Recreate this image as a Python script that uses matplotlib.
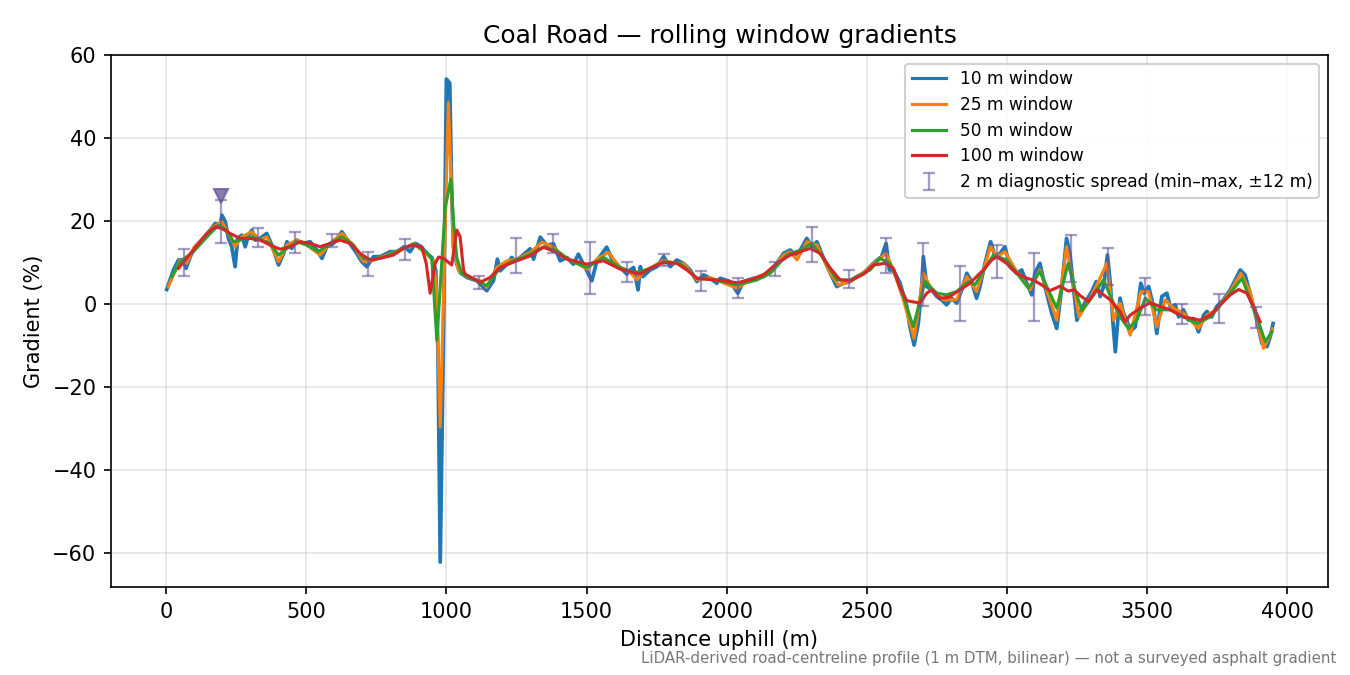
import numpy as np
import matplotlib
matplotlib.use("Agg")
import matplotlib.pyplot as plt

# (distance m, gradient %)
w10 = [(2, 3.5), (26, 8.2), (44, 10.6), (62, 10.6), (71, 8.6), (86, 11.4), (103, 13.8), (133, 15.8),
       (157, 17.8), (175, 19.4), (193, 19.0), (199, 21.4), (211, 19.8), (222, 15.8), (234, 13.8),
       (246, 9.0), (255, 15.8), (270, 16.6), (282, 13.8), (294, 16.6), (306, 17.8), (318, 15.4),
       (335, 15.8), (359, 17.0), (377, 14.2), (401, 9.4), (419, 12.2), (431, 15.0), (448, 13.4),
       (466, 15.4), (490, 14.6), (514, 15.0), (538, 13.0), (556, 11.0), (573, 13.8), (597, 14.6),
       (627, 17.4), (651, 15.0), (680, 12.2), (698, 10.2), (716, 9.0), (740, 11.4), (764, 11.4),
       (799, 12.6), (823, 12.6), (850, 13.8), (870, 12.6), (890, 14.6), (910, 13.8), (930, 12.2),
       (948, 11.2), (962, 8.0), (970, -12.0), (978, -62.2), (990, -5.0), (1000, 54.2), (1012, 53.2),
       (1018, 30.0), (1025, 13.7), (1037, 9.6), (1049, 7.6), (1073, 6.4), (1109, 5.6), (1144, 3.2),
       (1168, 5.6), (1182, 10.8), (1192, 8.0), (1216, 9.6), (1233, 11.2), (1245, 10.4), (1263, 11.2),
       (1299, 13.3), (1311, 10.8), (1335, 16.1), (1358, 14.1), (1382, 14.5), (1406, 10.4),
       (1430, 11.2), (1453, 9.6), (1471, 12.0), (1489, 9.6), (1519, 5.6), (1537, 10.4), (1572, 13.7),
       (1596, 10.0), (1620, 8.8), (1644, 7.2), (1656, 8.2), (1668, 8.8), (1684, 3.4), (1692, 9.0),
       (1701, 6.6), (1727, 8.2), (1751, 9.0), (1775, 11.4), (1799, 9.0), (1822, 10.6), (1846, 9.8),
       (1870, 8.2), (1894, 5.4), (1918, 7.0), (1941, 6.2), (1965, 5.0), (1977, 6.2), (2013, 5.4),
       (2040, 2.6), (2060, 5.4), (2096, 6.2), (2132, 6.6), (2156, 7.8), (2179, 9.8), (2203, 12.2),
       (2227, 13.0), (2245, 11.8), (2263, 13.0), (2286, 15.8), (2304, 13.8), (2322, 15.0),
       (2346, 11.0), (2370, 7.4), (2393, 4.2), (2417, 5.0), (2441, 5.4), (2465, 6.6), (2489, 7.4),
       (2500, 8.2), (2530, 10.2), (2553, 11.4), (2569, 14.6), (2581, 8.2), (2595, 8.2), (2619, 5.0),
       (2643, -0.6), (2654, -5.5), (2669, -9.9), (2684, -4.7), (2696, 4.2), (2702, 11.4), (2714, 4.2),
       (2732, 3.4), (2750, 1.8), (2767, 1.0), (2785, -0.2), (2803, 1.4), (2821, 0.2), (2839, 3.4),
       (2857, 7.4), (2874, 5.4), (2892, 1.4), (2904, 4.2), (2922, 9.8), (2942, 15.0), (2958, 11.4),
       (2976, 12.2), (2993, 13.8), (3011, 9.0), (3035, 7.4), (3053, 8.2), (3071, 5.0), (3089, 2.2),
       (3100, 7.4), (3118, 9.8), (3136, 4.2), (3160, -2.2), (3178, -5.9), (3196, 4.2), (3213, 15.8),
       (3225, 12.2), (3250, -3.9), (3268, -1.0), (3285, 1.0), (3303, 3.0), (3319, 5.4), (3333, 1.8),
       (3345, 4.2), (3359, 11.8), (3369, 5.0), (3378, -3.9), (3387, -11.5), (3396, -3.9), (3404, 1.4),
       (3416, -2.2), (3428, -3.9), (3440, -6.7), (3458, -5.5), (3478, 5.0), (3490, 2.6), (3506, 4.2),
       (3523, -0.6), (3535, -7.1), (3553, 1.8), (3571, 2.6), (3583, -0.6), (3601, -0.2), (3613, -3.1),
       (3630, -1.4), (3648, -3.9), (3666, -3.5), (3684, -6.7), (3702, -2.7), (3714, -1.8),
       (3731, -3.1), (3749, -0.6), (3773, 1.0), (3797, 3.4), (3815, 5.8), (3833, 8.2), (3850, 7.0),
       (3868, 2.6), (3892, -3.9), (3910, -9.5), (3928, -10.3), (3940, -7.9), (3950, -4.7)]

w25 = [(8, 4.2), (26, 7.0), (50, 10.6), (74, 9.8), (97, 13.4), (169, 18.6), (199, 19.8), (228, 16.2),
       (246, 13.8), (270, 16.2), (306, 17.4), (335, 15.4), (359, 16.2), (401, 10.2), (431, 14.2),
       (466, 15.4), (502, 14.2), (549, 11.8), (585, 14.6), (627, 17.0), (668, 14.2), (704, 10.2),
       (740, 10.6), (787, 11.8), (835, 13.0), (883, 14.5), (930, 12.0), (954, 10.4), (964, 4.0),
       (978, -29.7), (992, 8.0), (1007, 48.6), (1016, 32.0), (1025, 13.7), (1043, 8.0), (1073, 6.6),
       (1120, 5.6), (1144, 4.0), (1180, 8.8), (1216, 10.4), (1251, 10.8), (1299, 12.4), (1341, 14.9),
       (1382, 13.7), (1418, 11.2), (1453, 10.4), (1501, 8.4), (1537, 10.8), (1578, 12.4), (1620, 8.8),
       (1656, 7.6), (1680, 5.8), (1704, 7.8), (1727, 8.6), (1775, 10.6), (1811, 9.8), (1846, 9.8),
       (1894, 5.8), (1941, 6.4), (1977, 5.4), (2037, 3.8), (2084, 5.8), (2156, 7.8), (2203, 11.8),
       (2227, 12.6), (2251, 10.6), (2286, 15.0), (2322, 14.2), (2370, 7.4), (2399, 4.6), (2441, 5.4),
       (2500, 8.2), (2530, 10.0), (2569, 12.2), (2595, 8.2), (2631, 1.0), (2669, -8.3), (2702, 7.4),
       (2732, 3.4), (2773, 1.0), (2821, 1.0), (2857, 6.6), (2892, 3.0), (2942, 13.8), (2964, 11.4),
       (2993, 12.6), (3035, 7.8), (3083, 3.4), (3118, 8.2), (3178, -3.9), (3213, 13.8), (3243, 2.6),
       (3257, -3.1), (3297, 1.4), (3321, 4.6), (3357, 9.8), (3381, -3.9), (3404, 0.2), (3440, -7.5),
       (3478, 3.0), (3506, 3.0), (3535, -5.5), (3565, 1.0), (3595, -1.0), (3630, -2.2), (3684, -5.9),
       (3714, -2.7), (3749, -1.4), (3797, 3.0), (3835, 7.4), (3868, 3.0), (3916, -10.7),
       (3940, -7.5), (3948, -6.0)]

w50 = [(20, 6.6), (50, 10.2), (97, 12.6), (157, 17.0), (187, 19.0), (216, 17.8), (240, 15.0),
       (264, 15.4), (300, 16.2), (335, 15.6), (371, 14.6), (401, 11.8), (431, 13.4), (466, 15.0),
       (502, 14.2), (543, 12.6), (585, 14.6), (627, 16.2), (668, 14.2), (704, 11.0), (740, 10.6),
       (787, 11.6), (835, 13.0), (883, 14.5), (930, 12.4), (948, 10.8), (966, -8.8), (980, 6.4),
       (996, 23.3), (1016, 30.1), (1025, 20.1), (1037, 11.2), (1055, 7.2), (1097, 6.0), (1144, 4.4),
       (1192, 8.8), (1239, 10.4), (1287, 11.6), (1346, 13.7), (1394, 12.9), (1442, 10.4),
       (1501, 8.8), (1561, 11.2), (1620, 8.8), (1668, 7.6), (1692, 7.8), (1727, 8.6), (1775, 10.2),
       (1834, 9.8), (1894, 6.2), (1953, 5.9), (2037, 4.6), (2108, 5.8), (2156, 7.4), (2215, 11.8),
       (2263, 13.0), (2304, 14.6), (2346, 11.0), (2393, 5.8), (2441, 5.8), (2512, 8.2), (2547, 11.0),
       (2583, 9.8), (2619, 4.2), (2666, -5.5), (2708, 5.4), (2750, 2.6), (2785, 2.2), (2821, 3.0),
       (2863, 5.4), (2886, 4.6), (2952, 11.8), (2999, 10.6), (3077, 3.8), (3118, 7.8), (3178, -1.0),
       (3219, 9.8), (3245, 3.0), (3268, -1.6), (3297, 1.0), (3345, 5.8), (3375, 1.0), (3404, -3.1),
       (3434, -5.9), (3464, -3.9), (3494, 1.4), (3535, -1.4), (3583, -1.4), (3630, -3.1),
       (3678, -4.7), (3726, -3.1), (3773, 0.6), (3839, 6.2), (3892, -3.1), (3922, -9.1),
       (3946, -6.7)]

w100 = [(44, 8.6), (97, 13.0), (145, 17.0), (175, 18.6), (199, 18.2), (228, 17.0), (264, 15.8),
        (300, 15.8), (335, 15.4), (371, 14.2), (407, 13.2), (442, 13.8), (478, 15.0), (514, 14.6),
        (549, 13.8), (585, 14.6), (621, 15.4), (656, 14.6), (692, 12.2), (728, 10.6), (764, 11.0),
        (811, 11.8), (847, 13.4), (877, 14.2), (912, 13.8), (928, 9.8), (942, 2.6), (960, 9.8),
        (972, 11.3), (990, 11.0), (1019, 9.4), (1037, 17.8), (1049, 16.2), (1061, 8.2), (1067, 7.2),
        (1120, 5.2), (1156, 6.4), (1192, 8.8), (1251, 10.4), (1299, 11.6), (1346, 13.7),
        (1394, 12.4), (1430, 10.8), (1501, 9.6), (1561, 10.4), (1620, 8.4), (1691, 7.2), (1727, 8.6),
        (1775, 10.0), (1822, 9.8), (1858, 8.2), (1894, 6.2), (1941, 5.9), (1989, 5.6), (2037, 5.1),
        (2084, 5.8), (2132, 7.0), (2179, 9.8), (2227, 11.8), (2298, 13.4), (2334, 12.2), (2370, 8.6),
        (2405, 5.8), (2441, 5.6), (2489, 7.2), (2524, 9.4), (2565, 9.8), (2595, 8.6), (2619, 3.8),
        (2643, 0.8), (2690, 0.2), (2714, 2.6), (2732, 3.4), (2761, 1.4), (2791, 1.6), (2833, 3.4),
        (2868, 5.0), (2916, 8.2), (2946, 10.6), (2964, 11.4), (2999, 9.8), (3035, 7.4), (3071, 6.2),
        (3094, 5.8), (3124, 4.6), (3154, 3.2), (3190, 4.3), (3219, 3.1), (3240, 3.4), (3262, 2.0),
        (3291, 0.6), (3321, 3.4), (3345, 2.2), (3369, 1.0), (3404, -1.8), (3422, -4.3), (3440, -2.7),
        (3476, -1.0), (3511, 0.3), (3547, -0.6), (3583, -1.4), (3630, -3.1), (3690, -3.9),
        (3726, -2.7), (3761, -0.2), (3797, 2.2), (3827, 3.5), (3856, 2.6), (3880, -0.6),
        (3904, -4.3)]

# 2 m diagnostic spread every ~132 m
spread_x = [62, 194, 326, 458, 590, 722, 854, 1118, 1250, 1382, 1514, 1646, 1778, 1910, 2042,
            2174, 2306, 2438, 2570, 2702, 2834, 2966, 3098, 3230, 3362, 3494, 3626, 3758, 3890]
spread_lo = [6.7, 14.6, 13.8, 12.4, 13.8, 6.7, 10.7, 3.5, 7.5, 12.2, 2.4, 5.4, 9.2, 3.2, 1.5,
             6.7, 10.2, 3.8, 7.4, -0.5, -4.0, 6.3, -4.0, 5.4, 4.6, -2.7, -4.9, -4.5, -5.9]
spread_hi = [13.3, 25.0, 18.2, 17.4, 16.9, 12.6, 15.7, 6.7, 16.0, 16.9, 15.0, 10.2, 12.0, 8.0, 6.3,
             10.2, 18.6, 8.2, 16.0, 14.8, 9.2, 14.1, 12.2, 16.6, 13.6, 6.2, 0.0, 2.4, -0.8]
flag_x = [194]
flag_y = [26.0]

colors = ['#1f77b4', '#ff7f0e', '#2ca02c', '#d62728']
labels = ['10 m window', '25 m window', '50 m window', '100 m window']
widths = [1.8, 1.5, 1.5, 1.5]

fig = plt.figure(figsize=(9, 4.5), dpi=150)
ax = fig.add_axes([0.0822, 0.1304, 0.9015, 0.7881])

for pts, c, lab, lw in zip([w10, w25, w50, w100], colors, labels, widths):
    d, g = np.array(pts).T
    ax.plot(d, g, color=c, lw=lw, label=lab, zorder=2)

lo = np.array(spread_lo)
hi = np.array(spread_hi)
mid = (lo + hi) / 2
ax.errorbar(spread_x, mid, yerr=[mid - lo, hi - mid], fmt='none', ecolor='#6a5a9a', alpha=0.6,
            elinewidth=1.1, capsize=3, capthick=1.1, zorder=3,
            label='2 m diagnostic spread (min\u2013max, \u00b112 m)')
ax.plot(flag_x, flag_y, marker='v', ms=7, color='#6a5a9a', alpha=0.8, ls='none', zorder=4)

ax.set_xlim(-197, 4146)
ax.set_ylim(-68.2, 60)
ax.grid(True, color='#cccccc', alpha=0.5, lw=0.8)
ax.set_axisbelow(True)
ax.set_title('Coal Road \u2014 rolling window gradients', fontsize=12)
ax.set_xlabel('Distance uphill (m)', fontsize=10)
ax.set_ylabel('Gradient (%)', fontsize=10)
leg = ax.legend(loc='upper right', fontsize=8.2, framealpha=0.9, labelspacing=0.45)
for h in leg.get_lines():
    h.set_linewidth(1.5)

fig.text(0.9896, 0.014, 'LiDAR-derived road-centreline profile (1 m DTM, bilinear) \u2014 not a surveyed asphalt gradient',
         ha='right', va='bottom', fontsize=7.2, color='#777777')

fig.savefig('out.png', dpi=150)
